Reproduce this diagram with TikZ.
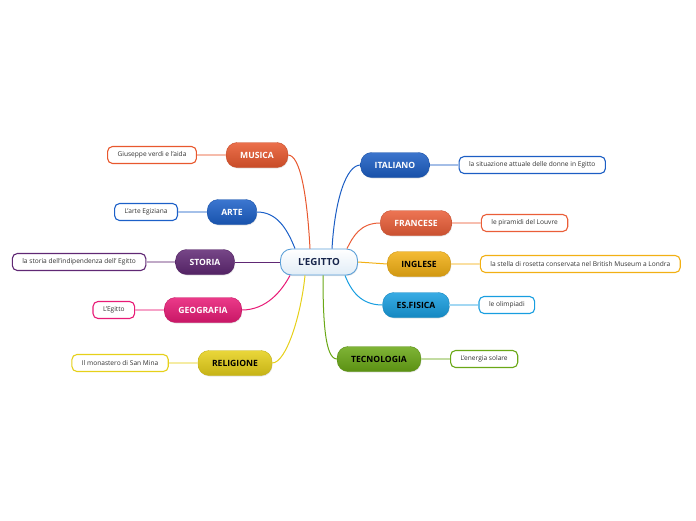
\documentclass[tikz,border=0pt]{standalone}
\usepackage{fontspec}
\setmainfont{Open Sans}
\definecolor{musicacol}{RGB}{232,88,46}
\definecolor{artecol}{RGB}{28,96,200}
\definecolor{storiacol}{RGB}{96,40,116}
\definecolor{geocol}{RGB}{232,26,118}
\definecolor{religcol}{RGB}{230,208,26}
\definecolor{italcol}{RGB}{28,94,196}
\definecolor{francol}{RGB}{234,94,56}
\definecolor{inglcol}{RGB}{242,176,20}
\definecolor{fisicacol}{RGB}{24,158,224}
\definecolor{tecnocol}{RGB}{106,168,22}
\definecolor{rootblue}{RGB}{92,160,216}
\definecolor{rootnavy}{RGB}{24,38,76}
\usetikzlibrary{positioning,shadows}

\begin{document}
\begin{tikzpicture}[x=1pt, y=-1pt,
      topic/.style={rounded corners=11pt, minimum height=25pt, inner xsep=14pt,
                    top color=#1!86!white, bottom color=#1!86!black, draw=#1!85!black,
                    font=\fontsize{8.6}{9}\selectfont\bfseries,
                    drop shadow={opacity=0.2, shadow xshift=0.6pt, shadow yshift=-1pt}},
      leaf/.style={draw=#1, line width=1.1pt, fill=white, rounded corners=5pt,
                   minimum height=17pt, inner xsep=10pt, text=black!80,
                   font=\fontsize{6.6}{7}\selectfont},
      link/.style={#1, line width=1pt},
      twig/.style={#1!40!white, line width=1.4pt},
      node distance=29pt
    ]
    \useasboundingbox (0,0) rectangle (696,520);
    % centre
    \node[rounded corners=11pt, minimum height=26pt, minimum width=77pt,
          top color=white, bottom color=black!4!rootblue!18, draw=rootblue, line width=0.9pt,
          text=rootnavy, font=\fontsize{9.8}{10}\selectfont\bfseries,
          drop shadow={opacity=0.2, shadow xshift=0.6pt, shadow yshift=-1pt}] (egitto) at (319,262) {L'EGITTO};
    % left side
    \node[topic=musicacol, text=white] (musica) at (257,155) {MUSICA};
    \node[topic=artecol, text=white] (arte) at (232,212) {ARTE};
    \node[topic=storiacol, text=white] (storia) at (205,262) {STORIA};
    \node[topic=geocol, text=white] (geografia) at (203,310) {GEOGRAFIA};
    \node[topic=religcol, text=black] (religione) at (235,363) {RELIGIONE};
    \node[leaf=musicacol, left=of musica] (verdi) {Giuseppe verdi e l'aida};
    \node[leaf=artecol, left=of arte] (egiziana) {L'arte Egiziana};
    \node[leaf=storiacol, left=of storia] (indip) {la storia dell'indipendenza dell' Egitto};
    \node[leaf=geocol, left=of geografia] (legitto) {L'Egitto};
    \node[leaf=religcol, left=of religione] (monastero) {Il monastero di San Mina};
    % right side
    \node[topic=italcol, text=white] (italiano) at (395,165) {ITALIANO};
    \node[topic=francol, text=white] (francese) at (416,223) {FRANCESE};
    \node[topic=inglcol, text=black] (inglese) at (419,264) {INGLESE};
    \node[topic=fisicacol, text=black] (fisica) at (416,305) {ES.FISICA};
    \node[topic=tecnocol, text=black] (tecnologia) at (379,359) {TECNOLOGIA};
    \node[leaf=italcol, right=of italiano] (donne) {la situazione attuale delle donne in Egitto};
    \node[leaf=francol, right=of francese] (louvre) {le piramidi del Louvre};
    \node[leaf=inglcol, right=of inglese] (rosetta) {la stella di rosetta conservata nel British Museum a Londra};
    \node[leaf=fisicacol, right=of fisica] (olimpiadi) {le olimpiadi};
    \node[leaf=tecnocol, right=of tecnologia] (solare) {L'energia solare};
    % branches
    \draw[link=musicacol] (musica.east) .. controls +(12,0) and +(-3,-55) .. ([xshift=-9pt]egitto.north);
    \draw[link=artecol] (arte.east) .. controls +(20,0) and +(-8,-20) .. ([xshift=-24pt]egitto.north);
    \draw[link=storiacol] (storia.east) -- (egitto.west);
    \draw[link=geocol] (geografia.east) .. controls +(25,0) and +(-8,15) .. ([xshift=-29pt]egitto.south);
    \draw[link=religcol] (religione.east) .. controls +(14,0) and +(-4,40) .. ([xshift=-14pt]egitto.south);
    \draw[link=italcol] (italiano.west) .. controls +(-14,0) and +(3,-50) .. ([xshift=13pt]egitto.north);
    \draw[link=francol] (francese.west) .. controls +(-20,0) and +(6,-12) .. ([xshift=28pt]egitto.north);
    \draw[link=inglcol] (inglese.west) -- (egitto.east);
    \draw[link=fisicacol] (fisica.west) .. controls +(-22,0) and +(6,15) .. ([xshift=26pt]egitto.south);
    \draw[link=tecnocol] (tecnologia.west) .. controls +(-12,0) and +(0,45) .. ([xshift=4pt]egitto.south);
    % leaves
    \draw[twig=musicacol] (verdi) -- (musica);
    \draw[twig=artecol] (egiziana) -- (arte);
    \draw[twig=storiacol] (indip) -- (storia);
    \draw[twig=geocol] (legitto) -- (geografia);
    \draw[twig=religcol] (monastero) -- (religione);
    \draw[twig=italcol] (donne) -- (italiano);
    \draw[twig=francol] (louvre) -- (francese);
    \draw[twig=inglcol] (rosetta) -- (inglese);
    \draw[twig=fisicacol] (olimpiadi) -- (fisica);
    \draw[twig=tecnocol] (solare) -- (tecnologia);
  \end{tikzpicture}
\end{document}
